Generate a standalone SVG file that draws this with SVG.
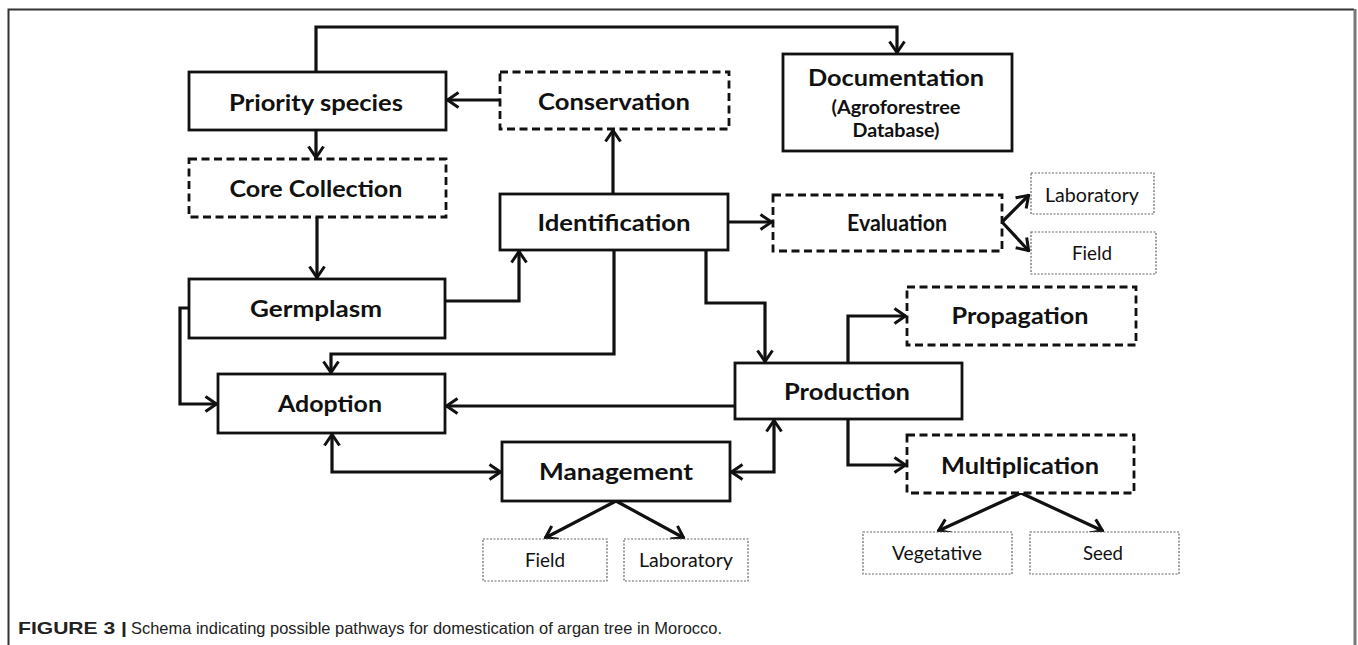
<svg xmlns="http://www.w3.org/2000/svg" width="1358" height="645" viewBox="0 0 1358 645">
<style>
.solid{fill:#fff;stroke:#111;stroke-width:2.8}
.dash{fill:#fff;stroke:#111;stroke-width:2.8;stroke-dasharray:8 4.5}
.dot{fill:#fff;stroke:#666;stroke-width:1.2;stroke-dasharray:2 1.5}
.lbl{font-family:Lato,"Open Sans","Liberation Sans",sans-serif;font-weight:bold;font-size:22px;fill:#111;text-anchor:middle}
.sub{font-family:Lato,"Open Sans","Liberation Sans",sans-serif;font-weight:bold;font-size:19px;fill:#111;text-anchor:middle}
.sm{font-family:Lato,"Open Sans","Liberation Sans",sans-serif;font-size:18.5px;fill:#111;text-anchor:middle}
.cap{font-family:"Liberation Sans",Arial,sans-serif;font-size:16.5px;fill:#222}
#connectors path{fill:none;stroke:#111;stroke-width:3.2}
</style>
<defs>
<marker id="ah" markerUnits="userSpaceOnUse" viewBox="0 0 14 18" refX="13" refY="9" markerWidth="14" markerHeight="18" orient="auto-start-reverse">
<path d="M1.5,1.5 L12.5,9 L1.5,16.5" fill="none" stroke="#111" stroke-width="3" stroke-linejoin="miter"/>
</marker>
</defs>
<rect x="0" y="0" width="1358" height="645" fill="#fff"/>
<path d="M8.5,650 V9.5 H1354" fill="none" stroke="#333" stroke-width="2"/>
<path d="M1355,9 V650" fill="none" stroke="#777" stroke-width="3"/>

<g id="connectors">
<path d="M316,72 V27 H897 V53" marker-end="url(#ah)"/>
<path d="M500,100 H447" marker-end="url(#ah)"/>
<path d="M316,130 V158" marker-end="url(#ah)"/>
<path d="M317,217 V278" marker-end="url(#ah)"/>
<path d="M613,194 V130" marker-end="url(#ah)"/>
<path d="M728,222 H772" marker-end="url(#ah)"/>
<path d="M1002,222 L1029,195" marker-end="url(#ah)"/>
<path d="M1002,222 L1029,251" marker-end="url(#ah)"/>
<path d="M445,301 H519 V251" marker-end="url(#ah)"/>
<path d="M614,250 V354 H331 V373" marker-end="url(#ah)"/>
<path d="M189,308 H180 V404 H217" marker-end="url(#ah)"/>
<path d="M735,406 H446" marker-end="url(#ah)"/>
<path d="M706,250 V303 H765 V362" marker-end="url(#ah)"/>
<path d="M848,363 V316 H906" marker-end="url(#ah)"/>
<path d="M848,419 V465 H906" marker-end="url(#ah)"/>
<path d="M332,434 V472 H501" marker-start="url(#ah)" marker-end="url(#ah)"/>
<path d="M731,472 H774 V420" marker-start="url(#ah)" marker-end="url(#ah)"/>
<path d="M616,501 L545,538" marker-end="url(#ah)"/>
<path d="M616,501 L684,538" marker-end="url(#ah)"/>
<path d="M1021,493 L938,531" marker-end="url(#ah)"/>
<path d="M1021,493 L1103,531" marker-end="url(#ah)"/>
</g>

<g id="priority"><rect class="solid" x="189" y="72" width="257" height="58"/><text class="lbl" x="316" y="111" textLength="174" lengthAdjust="spacingAndGlyphs">Priority species</text></g>
<g id="core"><rect class="dash" x="189" y="159" width="257" height="58"/><text class="lbl" x="316" y="197" textLength="173" lengthAdjust="spacingAndGlyphs">Core Collection</text></g>
<g id="conservation"><rect class="dash" x="500" y="72" width="229" height="57"/><text class="lbl" x="614" y="110" textLength="152" lengthAdjust="spacingAndGlyphs">Conservation</text></g>
<g id="documentation"><rect class="solid" x="783" y="54" width="229" height="97"/>
<text class="lbl" x="896" y="86" textLength="176" lengthAdjust="spacingAndGlyphs">Documentation</text>
<text class="sub" x="896" y="114" textLength="129" lengthAdjust="spacingAndGlyphs">(Agroforestree</text>
<text class="sub" x="896" y="137" textLength="87" lengthAdjust="spacingAndGlyphs">Database)</text></g>
<g id="identification"><rect class="solid" x="500" y="194" width="228" height="56"/><text class="lbl" x="614" y="231" textLength="153" lengthAdjust="spacingAndGlyphs">Identification</text></g>
<g id="evaluation"><rect class="dash" x="773" y="195" width="229" height="56"/><text class="lbl" x="897" y="231" textLength="100" lengthAdjust="spacingAndGlyphs">Evaluation</text></g>
<g id="eval-lab"><rect class="dot" x="1031" y="173" width="123" height="41"/><text class="sm" x="1092" y="202" textLength="94" lengthAdjust="spacingAndGlyphs">Laboratory</text></g>
<g id="eval-field"><rect class="dot" x="1031" y="232" width="125" height="42"/><text class="sm" x="1092" y="260" textLength="40" lengthAdjust="spacingAndGlyphs">Field</text></g>
<g id="propagation"><rect class="dash" x="907" y="287" width="229" height="58"/><text class="lbl" x="1020" y="324" textLength="137" lengthAdjust="spacingAndGlyphs">Propagation</text></g>
<g id="germplasm"><rect class="solid" x="189" y="279" width="256" height="59"/><text class="lbl" x="316" y="317" textLength="132" lengthAdjust="spacingAndGlyphs">Germplasm</text></g>
<g id="adoption"><rect class="solid" x="218" y="374" width="227" height="59"/><text class="lbl" x="330" y="412" textLength="104" lengthAdjust="spacingAndGlyphs">Adoption</text></g>
<g id="production"><rect class="solid" x="735" y="363" width="227" height="56"/><text class="lbl" x="847" y="400" textLength="126" lengthAdjust="spacingAndGlyphs">Production</text></g>
<g id="management"><rect class="solid" x="502" y="442" width="228" height="59"/><text class="lbl" x="616" y="480" textLength="154" lengthAdjust="spacingAndGlyphs">Management</text></g>
<g id="multiplication"><rect class="dash" x="907" y="435" width="227" height="58"/><text class="lbl" x="1020" y="474" textLength="158" lengthAdjust="spacingAndGlyphs">Multiplication</text></g>
<g id="mgmt-field"><rect class="dot" x="483" y="539" width="124" height="42"/><text class="sm" x="545" y="567" textLength="40" lengthAdjust="spacingAndGlyphs">Field</text></g>
<g id="mgmt-lab"><rect class="dot" x="624" y="539" width="124" height="42"/><text class="sm" x="686" y="567" textLength="94" lengthAdjust="spacingAndGlyphs">Laboratory</text></g>
<g id="vegetative"><rect class="dot" x="863" y="532" width="149" height="42"/><text class="sm" x="937" y="560" textLength="90" lengthAdjust="spacingAndGlyphs">Vegetative</text></g>
<g id="seed"><rect class="dot" x="1030" y="532" width="149" height="42"/><text class="sm" x="1103" y="560" textLength="40" lengthAdjust="spacingAndGlyphs">Seed</text></g>

<text class="cap" x="18" y="634" font-weight="bold" textLength="109" lengthAdjust="spacingAndGlyphs">FIGURE 3 |</text>
<text class="cap" x="131" y="634" textLength="591" lengthAdjust="spacingAndGlyphs">Schema indicating possible pathways for domestication of argan tree in Morocco.</text>
</svg>
